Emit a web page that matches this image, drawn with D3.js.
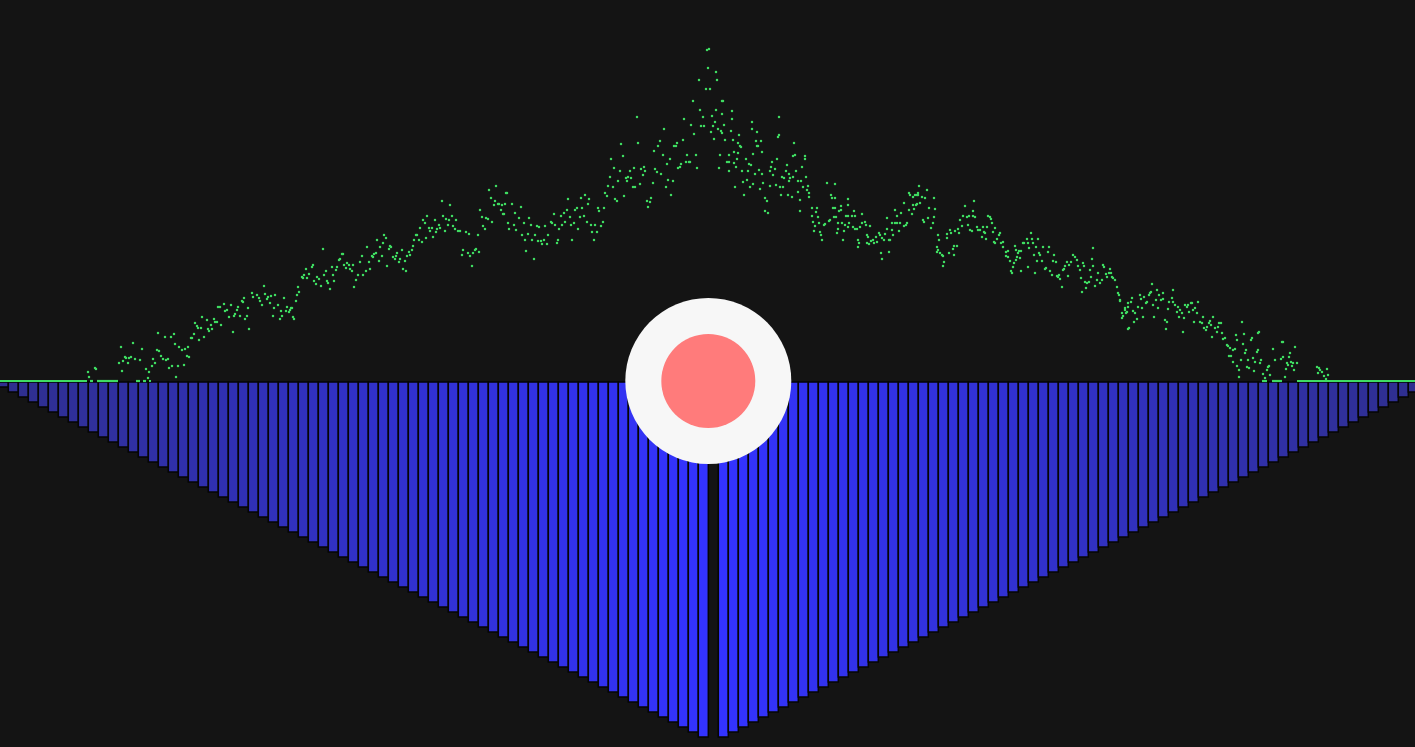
<!DOCTYPE html>
<html>
<head>
<meta charset="utf-8">
<script src="https://cdn.jsdelivr.net/npm/d3@7"></script>
<style>
  html, body { margin: 0; padding: 0; background: #141414; overflow: hidden; }
  svg { display: block; }
</style>
</head>
<body>
<svg id="chart" width="1415" height="747"></svg>
<script>
// ---- bar series (V shape, centre slot empty) ----
const barValuesLeft = [1,2,3,4,5,6,7,8,9,10,11,12,13,14,15,16,17,18,19,20,21,22,23,24,25,26,27,28,29,30,31,32,33,34,35,36,37,38,39,40,41,42,43,44,45,46,47,48,49,50,51,52,53,54,55,56,57,58,59,60,61,62,63,64,65,66,67,68,69,70,71];
const barValueCenter = [null];
const barValuesRight = [71,70,69,68,67,66,65,64,63,62,61,60,59,58,57,56,55,54,53,52,51,50,49,48,47,46,45,44,43,42,41,40,39,38,37,36,35,34,33,32,31,30,29,28,27,26,25,24,23,22,21,20,19,18,17,16,15,14,13,12,11,10,9,8,7,6,5,4,3,2];

// ---- scatter series: [position, value] ----
const zeroSpans = [[0,87],[90,93],[97,118],[136,140],[143,146],[149,151],[1262,1267],[1272,1282],[1297,1415]];

const scatterLeft = [[88,9],[89,4],[95,13],[96,12],[121,34],[125,24],[119,18],[122,10],[123,20],[126,23],[128,18],[129,23],[131,24],[133,38],[135,22],[140,21],[142,32],[146,12],[149,9],[148,3],[152,15],[153,22],[155,18],[157,31],[158,48],[159,30],[161,25],[163,22],[165,44],[166,21],[168,22],[169,13],[171,44],[172,15],[174,47],[175,37],[176,4],[178,15],[179,34],[182,31],[184,16],[185,32],[187,25],[188,34],[189,24],[191,43],[192,43],[194,47],[195,58],[197,55],[198,53],[199,41],
[201,53],[202,64],[204,44],[207,61],[208,52],[209,50],[211,56],[212,52],[214,62],[215,59],[217,59],[218,74],[220,74],[221,56],[224,77],[225,70],[227,71],[229,64],[231,76],[233,49],[234,65],[235,67],[237,71],[238,74],[240,65],[242,80],[243,79],[244,83],[245,62],[247,65],[248,73],[249,52],[252,88],[253,84],[257,86],[259,83],[260,80],[262,76],[264,95],[265,87],[267,82],[268,84],[270,78],[271,85],[273,65],[274,73],[275,86],[278,76],[280,62],[281,70],[282,65],[284,83],[286,70],[287,74],[289,69],[290,71],[291,73],[292,73],[293,64],[294,62],[296,80],[297,86],[298,94],[299,89],
[302,104],[303,103],[304,106],[306,112],[307,103],[309,107],[312,114],[313,116],[314,100],[316,97],[317,104],[319,102],[321,95],[323,132],[324,106],[326,110],[327,100],[328,98],[330,92],[332,114],[333,106],[334,100],[336,111],[337,114],[339,121],[340,122],[342,127],[343,127],[344,116],[346,113],[347,118],[349,116],[350,112],[352,110],[353,116],[354,94],[356,101],[358,106],[360,119],[362,125],[363,106],[366,110],[367,134],[369,119],[370,112],[372,125],[373,124],[374,127],[376,128],[377,141],[379,120],[380,134],[382,125],[383,138],[384,146],[386,143],[387,115],[389,132],[390,135],[391,134],[393,124],[395,122],[396,125],[397,128],[399,119],[400,122],
[402,131],[403,112],[405,120],[406,110],[407,125],[409,129],[410,126],[412,131],[413,135],[414,141],[416,146],[417,146],[419,141],[420,153],[422,139],[423,161],[425,158],[426,143],[427,165],[429,153],[430,150],[432,153],[433,144],[435,161],[436,149],[437,152],[439,156],[440,153],[442,180],[443,165],[445,150],[446,162],[448,156],[449,161],[450,176],[452,165],[453,155],[455,152],[456,161],[458,150],[460,150],[462,126],[463,131],[466,149],[468,128],[469,147],[470,125],[472,115],[473,128],[475,131],[476,132],[478,146],[479,129],[480,171],[482,164],[483,155],[485,152],[486,163],[488,162],[489,191],[491,183],[492,159],[494,176],[495,180],[496,195],[498,177],[499,177],[501,171],[502,176],[504,167],[505,177],[507,188],[508,158],[509,152]];

const scatterMid = [[506,188],[512,177],[515,168],[521,174],[503,167],[514,156],[516,151],[519,163],[522,146],[524,158],[525,141],[526,130],[528,147],[529,163],[531,156],[532,141],[534,122],[535,146],[537,155],[538,140],[539,154],[541,140],[542,137],[544,141],[545,155],[547,137],[548,146],[551,159],[552,158],[554,167],[555,156],[557,138],[558,141],[559,152],[561,165],[562,156],[564,168],[565,159],[567,171],[568,182],[570,164],[571,156],[572,141],[574,158],[575,171],[577,173],[578,152],[580,164],[581,183],[582,173],[584,165],[585,186],[587,159],[588,177],[589,182],[591,156],[592,149],[594,141],[595,156],[597,149],[598,173],[599,170],[601,155],[603,159],[604,173],[605,188],[607,185],[608,195],[610,204],[611,222],[613,194],[614,213],[615,182],[617,180],[618,200],[620,210],[621,237],[623,225],[624,185],[626,203],[627,200],[628,204],[630,210],[631,203],[633,194],[634,213],[635,194],[637,264],[638,238],[640,197],[641,212],[643,206],[644,214],[645,210],[647,180],[648,174],[650,179],[651,183],[653,198],[654,230],[655,212],[657,209],[658,235],[660,240],[661,207],[663,226],[664,252],[666,194],[667,217],[668,201],[670,222],[671,186],[673,200],[674,235],[676,235],[677,238],[678,213],[680,214],[681,217],[683,241],[684,262],[686,219],[687,226],[689,219],[690,219],[691,256],[693,280],[694,247],[696,226],[697,213],[699,301],[700,271],[701,255],[703,264],[704,255],[706,292],[707,331],[708,313],[709,332],[710,292],
[711,249],[712,265],[713,255],[714,242],[715,259],[716,271],[716,309],[717,301],[718,252],[719,213],[720,226],[721,250],[722,280],[722,267],[722,248],[723,280],[724,256],[725,241],[727,219],[729,226],[729,219],[729,210],[731,250],[732,270],[732,262],[733,241],[734,229],[734,218],[735,194],[736,214],[737,222],[738,228],[738,238],[739,246],[740,235],[741,234],[742,210],[743,199],[744,186],[746,222],[747,201],[748,210],[749,217],[750,194],[751,216],[752,259],[752,252],[753,227],[753,197],[755,207],[756,240],[757,249],[757,235],[758,235],[759,211],[760,192],[761,240],[762,229],[762,207],[763,198],[765,183],[765,170],[767,180],[768,168],[770,210],[770,195],[771,214],[772,219],[773,206],[775,212],[776,196],[777,222],[778,244],[779,264],[779,246],[780,194],[781,186],[782,204],[783,194],[784,203],[786,210],[787,216],[788,186],[789,207],[789,200],[790,203],[792,184],[793,204],[793,225],[794,238],[795,226],[796,210],[798,200],[798,189],[800,181],[800,170],[801,200],[802,214],[803,194],[805,225],[805,222],[806,204],[807,191],[808,195],[809,188],[809,184]];

const scatterRight = [[812,173],[812,165],[813,159],[814,150],[815,155],[816,169],[817,173],[818,164],[819,158],[820,149],[821,146],[822,141],[824,156],[825,157],[827,198],[829,160],[830,161],[831,186],[832,183],[833,173],[834,164],[835,173],[835,197],[835,183],[836,164],[837,148],[838,158],[838,152],[839,170],[841,171],[841,175],[842,158],[843,141],[844,150],[845,156],[846,165],[848,182],[848,176],[848,165],[848,154],[849,158],[852,165],[853,154],[854,170],[855,165],[855,152],[857,152],[858,141],[858,134],[859,138],[860,154],[862,167],[862,158],[865,159],[866,156],[867,146],[867,138],[868,144],[869,137],[870,155],[871,140],[873,141],[874,138],[876,144],[877,139],[879,148],[880,146],[881,128],[882,143],[882,122],[884,141],[885,147],[887,152],[887,163],[889,141],[889,129],[890,141],[892,151],[892,158],[893,146],[895,158],[895,171],[897,158],[897,165],[899,150],[900,158],[901,168],[904,155],[904,178],[906,156],[907,158],[909,171],[909,188],[910,186],[912,167],[913,176],[913,184],[914,172],[915,186],[916,176],[917,186],[917,177],[918,186],[918,188],[919,195],[920,178],[922,184],[923,161],[924,159],[925,183],[927,191],[928,163],[929,173],[931,153],[933,158],[934,183],[934,164],[935,172],[937,134],[937,129],[938,146],[938,131],[939,141],[940,128],[942,126],[943,125],[943,115],[944,119],[947,143],[947,147],[949,128],[950,151],[951,148],[953,132],[954,135],[954,126],[955,150],[957,135],[958,152],[959,148],[960,161],[962,155],[963,165],[965,175],[967,164],[968,156],[969,165],[970,151],[972,150],[973,170],[973,165],[974,180],[975,164],[977,154],[978,151],[980,151],[982,144],[983,154],[984,149],[985,148],[986,142],[987,154],[988,165],[990,164],[991,162],[992,158],[993,149],[994,139],[995,153],[995,138],[997,142],[999,146],[1000,148],[1001,138],[1003,139],[1003,134],[1006,129],[1006,125],[1008,130],[1008,124],[1010,120],[1011,110],[1012,108],[1013,114],[1014,118],[1015,135],[1016,121],[1016,131],[1017,124],[1018,128],[1019,130],[1020,123],[1021,130],[1021,110],[1023,138],[1024,138],[1027,142],[1028,138],[1028,114],[1029,133],[1031,148],[1032,142],[1033,138],[1034,126],[1035,108],[1036,134],[1037,120],[1038,142],[1039,128],[1040,126],[1042,120],[1043,134],[1045,112],[1046,113],[1048,129],[1049,134],[1050,110],[1052,106],[1053,120],[1054,126],[1056,119],[1057,105],[1058,104],[1059,106],[1060,102],[1062,94],[1063,111],[1064,112],[1065,115],[1067,119],[1068,105],[1069,116],[1071,119],[1073,126],[1075,124],[1077,121],[1078,115],[1080,111],[1081,103],[1082,89],[1083,118],[1084,115],[1085,99],[1086,93],[1087,98],[1089,99],[1090,111],[1091,104],[1092,122],[1093,133],[1093,115],[1095,95],[1097,101],[1098,108],[1100,98],[1102,101],[1103,116],[1104,114],[1106,107],[1107,104],[1109,108],[1110,112],[1111,108],[1112,104],[1113,103],[1115,101],[1117,94],[1118,88],[1119,86],[1120,80],[1120,81],[1122,68],[1122,63],[1123,65],[1125,73],[1125,71],[1126,68],[1127,69],[1128,74],[1128,78],[1128,52],[1129,53],[1131,79],[1132,83],[1133,70],[1134,59],[1135,68],[1137,62],[1138,74],[1140,86],[1141,82],[1142,73],[1143,64],[1144,84],[1146,78],[1147,79],[1149,86],[1150,88],[1151,89],[1152,97],[1153,76],[1154,64],[1156,81],[1157,91],[1158,73],[1159,86],[1161,81],[1163,88],[1163,82],[1165,61],[1166,52],[1167,59],[1168,72],[1169,79],[1172,83],[1173,91],[1173,79],[1175,76],[1177,69],[1178,74],[1179,64],[1180,71],[1182,68],[1183,49],[1184,63],[1185,76],[1187,74],[1188,76],[1189,69],[1191,78],[1192,78],[1193,71],[1194,59],[1195,73],[1197,68],[1198,79],[1200,59],[1202,58],[1203,64],[1204,53],[1206,51],[1207,54],[1209,58],[1210,60],[1211,56],[1212,44],[1213,64],[1215,53],[1217,49],[1218,54],[1219,58],[1221,58],[1222,48],[1223,42],[1225,43],[1227,36],[1228,35],[1229,25],[1230,33],[1231,25],[1233,19],[1233,31],[1235,32],[1236,46],[1237,41],[1237,15],[1239,4],[1239,11],[1241,21],[1242,59],[1243,37],[1244,47],[1245,28],[1246,31],[1247,14],[1248,21],[1249,13],[1251,41],[1252,43],[1253,23],[1254,10],[1255,19],[1257,29],[1258,31],[1258,48],[1259,49],[1260,18],[1261,21],[1263,7],[1265,3],[1267,11],[1268,14],[1269,15],[1270,6],[1273,32],[1275,21],[1281,22],[1282,39],[1283,39],[1283,24],[1285,4],[1286,12],[1287,18],[1288,16],[1289,24],[1290,28],[1291,19],[1292,15],[1293,18],[1294,11],[1295,34],[1297,18],[1317,14],[1318,8],[1319,13],[1320,11],[1322,9],[1324,5],[1326,2],[1327,12],[1328,6]];

// ---- build ----
const W = 1415, H = 747;
const svg = d3.select("#chart");
svg.append("rect").attr("width", W).attr("height", H).attr("fill", "#141414");

const barValues = barValuesLeft.concat(barValueCenter, barValuesRight);
const barData = barValues.map((v, i) => ({ i, v }));

const xBand = d3.scaleBand().domain(barData.map(d => d.i)).range([-1.7, 1418.3]).padding(0);
const yBar = d3.scaleLinear().domain([0, 71]).range([382, 737]);
const barColor = d3.scaleLinear().domain([0, 71]).range(["#2f2f8c", "#3333ff"]).interpolate(d3.interpolateRgb);

svg.append("g").selectAll("rect")
  .data(barData.filter(d => d.v != null))
  .join("rect")
  .attr("x", d => xBand(d.i))
  .attr("y", yBar(0))
  .attr("width", xBand.bandwidth())
  .attr("height", d => yBar(d.v) - yBar(0))
  .attr("fill", d => barColor(d.v))
  .attr("stroke", "#050505")
  .attr("stroke-width", 1.5);

const xs = d3.scaleLinear().domain([0, 1415]).range([0, 1415]);
const ys = d3.scaleLinear().domain([0, 333]).range([381, 48]);
const green = "#3fdc62";

svg.append("g").selectAll("line")
  .data(zeroSpans)
  .join("line")
  .attr("x1", d => xs(d[0])).attr("x2", d => xs(d[1]))
  .attr("y1", ys(0)).attr("y2", ys(0))
  .attr("stroke", green).attr("stroke-width", 2.2);

const pts = scatterLeft.concat(scatterMid, scatterRight);
svg.append("g").selectAll("circle")
  .data(pts)
  .join("circle")
  .attr("cx", d => xs(d[0]))
  .attr("cy", d => ys(d[1]))
  .attr("r", 1.25)
  .attr("fill", green);

// centre marker
const cx = xs(708.3), cy = ys(0);
svg.append("circle").attr("cx", cx).attr("cy", cy).attr("r", 83).attr("fill", "#f7f7f7");
svg.append("circle").attr("cx", cx).attr("cy", cy).attr("r", 47).attr("fill", "#ff7b7b");
</script>
</body>
</html>
